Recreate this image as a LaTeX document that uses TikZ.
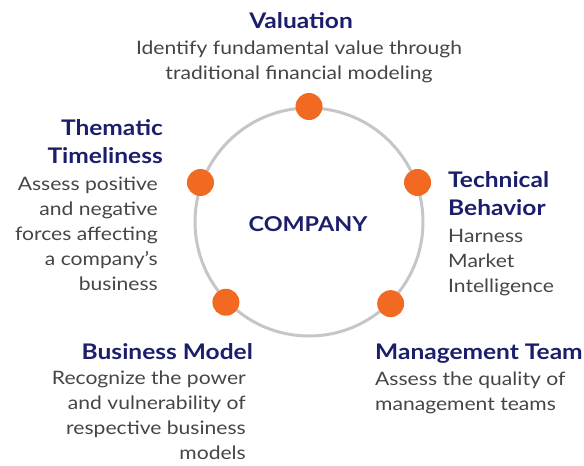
\documentclass[tikz,border=0pt]{standalone}
\usepackage{fontspec}
\setmainfont{Lato}[FakeStretch=1.14]
\usepackage{xcolor}
\usepackage{tikz}
\usetikzlibrary{positioning}

\definecolor{navyblue}{HTML}{1B1E6B}
\definecolor{bodygray}{HTML}{454545}
\definecolor{dotorange}{HTML}{F26A22}
\definecolor{ringgray}{HTML}{C6C6C6}

\begin{document}
\begin{tikzpicture}[
    x=1pt, y=-1pt,
    heading/.style={font=\fontsize{21.5}{28}\selectfont\bfseries, text=navyblue, inner sep=0pt},
    desc/.style={font=\fontsize{18.5}{25}\selectfont, text=bodygray, inner sep=0pt},
    dot/.style={circle, fill=dotorange, minimum size=27pt, inner sep=0pt},
    ring/.style={circle, draw=ringgray, line width=3pt, minimum size=228pt, inner sep=0pt}
]
\useasboundingbox (0,0) rectangle (584,466);

% Ring and centre
\node[ring] (ring) at (309,222) {};
\node[heading, font=\fontsize{20.5}{24}\selectfont\bfseries, anchor=base] (company) at (308,231) {COMPANY};

% Dots
\node[dot] (valdot) at (ring.90) {};
\node[dot] (techdot) at (ring.20) {};
\node[dot] (mgmtdot) at (ring.315) {};
\node[dot] (bizdot) at (ring.224) {};
\node[dot] (themdot) at (ring.160) {};

% Labels (base = last line)
\node[heading, anchor=base] (valtitle) at (301,28) {Valuation};
\node[desc, anchor=base, align=center] (valdesc) at (299,79) {Identify fundamental value through\\traditional financial modeling};

\node[heading, anchor=base east, align=right] (themtitle) at (163,163) {Thematic\\Timeliness};
\node[desc, anchor=base east, align=right] (themdesc) at (158,290) {Assess positive\\and negative\\forces affecting\\a company’s\\business};

\node[heading, anchor=base west, align=left] (techtitle) at (448,215) {Technical\\Behavior};
\node[desc, anchor=base west, align=left] (techdesc) at (448,292) {Harness\\Market\\Intelligence};

\node[heading, anchor=base east] (biztitle) at (253,359) {Business Model};
\node[desc, anchor=base east, align=right] (bizdesc) at (246,459) {Recognize the power\\and vulnerability of\\respective business\\models};

\node[heading, anchor=base west] (mgmttitle) at (375,359) {Management Team};
\node[desc, anchor=base west, align=left] (mgmtdesc) at (375,410) {Assess the quality of\\management teams};

\end{tikzpicture}
\end{document}
